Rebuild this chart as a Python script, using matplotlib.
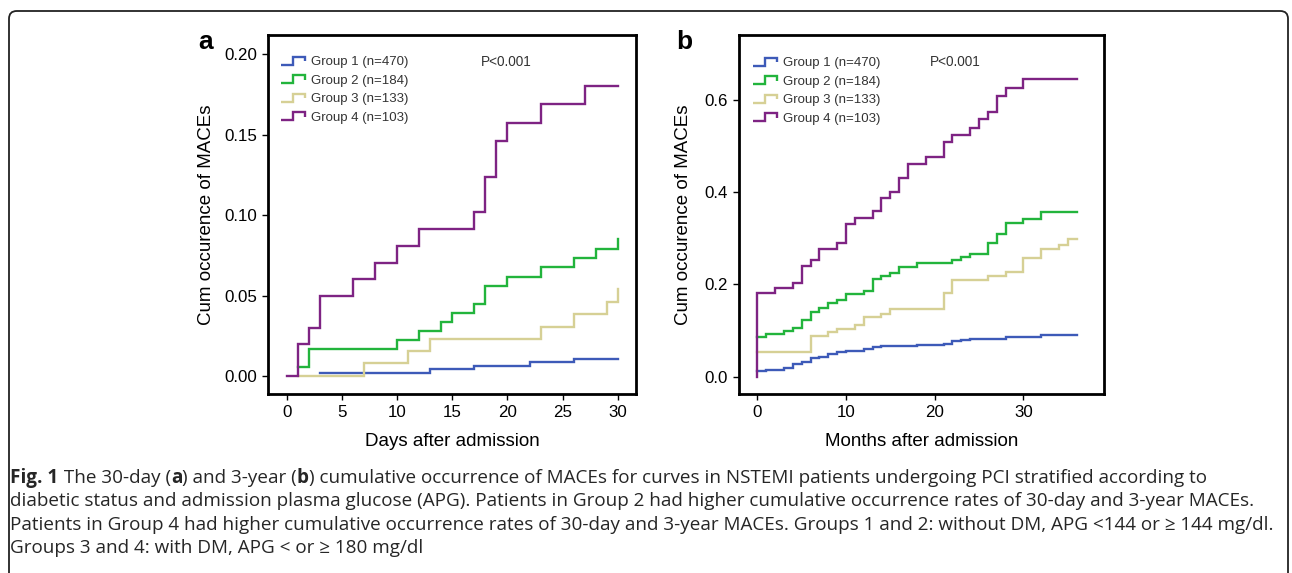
import matplotlib
matplotlib.use("Agg")
import matplotlib.pyplot as plt
from matplotlib.lines import Line2D
from matplotlib.legend_handler import HandlerBase
from matplotlib.patches import FancyBboxPatch
from matplotlib.ticker import FormatStrFormatter

plt.rcParams['font.family'] = ['Liberation Sans', 'DejaVu Sans']

# ---------------- data ----------------
group_labels = ["Group 1 (n=470)", "Group 2 (n=184)", "Group 3 (n=133)", "Group 4 (n=103)"]
group_colors = ["#3D5AB8", "#22B43C", "#D6D095", "#7E2383"]
p_text = "P<0.001"

# Panel a: 30-day (days)
a_g1_t = [3, 13, 17, 22, 26, 30]
a_g1_y = [0.0021, 0.0043, 0.0064, 0.0085, 0.0107, 0.0107]
a_g2_t = [1, 2, 10, 12, 14, 15, 17, 18, 20, 23, 26, 28, 30]
a_g2_y = [0.0058, 0.0168, 0.0222, 0.0280, 0.0334, 0.0390, 0.0448, 0.0560, 0.0618, 0.0676, 0.0734, 0.0790, 0.0850]
a_g3_t = [1, 7, 11, 13, 23, 26, 29, 30]
a_g3_y = [0.0, 0.0079, 0.0155, 0.0228, 0.0307, 0.0383, 0.0462, 0.0539]
a_g4_t = [0, 1, 2, 3, 6, 8, 10, 12, 17, 18, 19, 20, 23, 27, 30]
a_g4_y = [0.0, 0.020, 0.030, 0.050, 0.060, 0.0705, 0.081, 0.0915, 0.102, 0.124, 0.146, 0.157, 0.169, 0.1805, 0.1805]

# Panel b: 3-year (months)
b_g1_t = [0, 1, 2, 3, 4, 5, 6, 7, 8, 9, 10, 12, 13, 14, 18, 21, 22, 23, 24, 28, 30, 32, 36]
b_g1_y = [0.0115, 0.0135, 0.0155, 0.0195, 0.0275, 0.0325, 0.040, 0.0434, 0.049, 0.054, 0.0557,
          0.060, 0.065, 0.067, 0.069, 0.072, 0.0766, 0.0795, 0.0817, 0.0853, 0.0867, 0.0904, 0.0904]
b_g2_t = [0, 1, 3, 4, 5, 6, 7, 8, 9, 10, 12, 13, 14, 15, 16, 18, 22, 23, 24, 26, 27, 28, 30, 32, 36]
b_g2_y = [0.0853, 0.0925, 0.099, 0.105, 0.123, 0.141, 0.148, 0.159, 0.166, 0.179, 0.1865, 0.211,
          0.218, 0.2255, 0.2385, 0.246, 0.253, 0.260, 0.266, 0.289, 0.309, 0.334, 0.341, 0.357, 0.357]
b_g3_t = [0, 6, 8, 9, 11, 12, 14, 15, 21, 22, 26, 28, 30, 32, 34, 35, 36]
b_g3_y = [0.0542, 0.0882, 0.0961, 0.104, 0.112, 0.130, 0.137, 0.146, 0.182, 0.2096, 0.218, 0.226,
          0.2566, 0.276, 0.285, 0.298, 0.298]
b_g4_t = [0, 0, 2, 4, 5, 6, 7, 9, 10, 11, 13, 14, 15, 16, 17, 19, 21, 22, 24, 25, 26, 27, 28, 30, 36]
b_g4_y = [0.0, 0.181, 0.193, 0.204, 0.240, 0.253, 0.278, 0.291, 0.331, 0.345, 0.359, 0.387, 0.401,
          0.430, 0.461, 0.476, 0.509, 0.524, 0.540, 0.559, 0.575, 0.609, 0.627, 0.646, 0.646]

a_xticks = [0, 5, 10, 15, 20, 25, 30]
a_yticks = [0.00, 0.05, 0.10, 0.15, 0.20]
b_xticks = [0, 10, 20, 30]
b_yticks = [0.0, 0.2, 0.4, 0.6]

a_xlabel = "Days after admission"
b_xlabel = "Months after admission"
ylabel_text = "Cum occurence of MACEs"

caption_lines = [
    [("Fig. 1", "bold"), (" The 30-day (", "normal"), ("a", "bold"), (") and 3-year (", "normal"),
     ("b", "bold"), (") cumulative occurrence of MACEs for curves in NSTEMI patients undergoing PCI stratified according to", "normal")],
    [("diabetic status and admission plasma glucose (APG). Patients in Group 2 had higher cumulative occurrence rates of 30-day and 3-year MACEs.", "normal")],
    [("Patients in Group 4 had higher cumulative occurrence rates of 30-day and 3-year MACEs. Groups 1 and 2: without DM, APG <144 or \u2265 144 mg/dl.", "normal")],
    [("Groups 3 and 4: with DM, APG < or \u2265 180 mg/dl", "normal")],
]

# ---------------- figure ----------------
W, H = 1292, 573
fig = plt.figure(figsize=(W / 100, H / 100), dpi=100)
fig.patch.set_facecolor("white")


def fx(px):
    return px / W


def fy(py):
    return 1 - py / H


# outer rounded frame
frame = FancyBboxPatch((fx(9), fy(640)), fx(1288 - 9), (640 - 11) / H,
                       boxstyle="round,pad=0,rounding_size=0.006",
                       transform=fig.transFigure, fill=False, ec="#222222", lw=1.3,
                       mutation_aspect=W / H)
fig.add_artist(frame)


class StepHandler(HandlerBase):
    def create_artists(self, legend, orig_handle, xdescent, ydescent, width, height, fontsize, trans):
        x0, y0 = -xdescent, -ydescent
        xs = [x0, x0 + 0.52 * width, x0 + 0.52 * width, x0 + width, x0 + width]
        ys = [y0 + 0.1 * height, y0 + 0.1 * height, y0 + 0.9 * height, y0 + 0.9 * height, y0 + 0.45 * height]
        ln = Line2D(xs, ys, color=orig_handle.get_color(), lw=orig_handle.get_linewidth(),
                    solid_joinstyle="miter", solid_capstyle="butt")
        ln.set_transform(trans)
        return [ln]


def style_axes(ax, xlim, ylim, xticks, yticks, yfmt):
    ax.set_xlim(*xlim)
    ax.set_ylim(*ylim)
    ax.set_xticks(xticks)
    ax.set_yticks(yticks)
    ax.yaxis.set_major_formatter(FormatStrFormatter(yfmt))
    for s in ax.spines.values():
        s.set_linewidth(2.0)
        s.set_color("black")
    ax.tick_params(axis="both", direction="out", length=4.5, width=1.0, labelsize=12.2,
                   pad=3.5, top=False, right=False, colors="black")


def draw_panel(ax, series, xlabel, xlim, ylim, xticks, yticks, yfmt, ylab_x, leg_anchor, p_xy):
    handles = []
    for (t, y), c in zip(series, group_colors):
        h, = ax.step(t, y, where="post", color=c, lw=1.7, solid_joinstyle="miter")
        handles.append(h)
    style_axes(ax, xlim, ylim, xticks, yticks, yfmt)
    ax.set_xlabel(xlabel, fontsize=13.5)
    ax.xaxis.label.set_va("center")
    ax.xaxis.set_label_coords(0.5, -0.133)
    ax.set_ylabel(ylabel_text, fontsize=13.5)
    ax.yaxis.label.set_va("center")
    ax.yaxis.set_label_coords(ylab_x, 0.5)
    leg = ax.legend(handles, group_labels, handler_map={Line2D: StepHandler()},
                    loc="upper left", bbox_to_anchor=leg_anchor, frameon=False,
                    fontsize=9.5, handlelength=1.85, handleheight=0.8, handletextpad=0.45,
                    labelspacing=0.45, borderpad=0, borderaxespad=0)
    for txt in leg.get_texts():
        txt.set_color("#333333")
    ax.text(p_xy[0], p_xy[1], p_text, transform=ax.transAxes, fontsize=9.8,
            color="#333333", ha="center", va="center")


# Panel a
ax_a = fig.add_axes([fx(268), fy(394), fx(636 - 268), (394 - 35) / H])
draw_panel(ax_a,
           [(a_g1_t, a_g1_y), (a_g2_t, a_g2_y), (a_g3_t, a_g3_y), (a_g4_t, a_g4_y)],
           a_xlabel, (-1.75, 31.67), (-0.0112, 0.212), a_xticks, a_yticks, "%.2f",
           -0.168, (0.034, 1 - 20.5 / 359), ((506 - 268) / 368, 1 - (61.7 - 35) / 359))

# Panel b
ax_b = fig.add_axes([fx(739.3), fy(394), fx(1104 - 739.3), (394 - 35) / H])
draw_panel(ax_b,
           [(b_g1_t, b_g1_y), (b_g2_t, b_g2_y), (b_g3_t, b_g3_y), (b_g4_t, b_g4_y)],
           b_xlabel, (-2.03, 39.1), (-0.0375, 0.741), b_xticks, b_yticks, "%.1f",
           -0.154, (0.037, 1 - 21.5 / 359), ((955 - 739.3) / 364.7, 1 - (62 - 35) / 359))

# panel letters
fig.text(fx(206), fy(41.7), "a", fontsize=19, fontweight="bold", ha="center", va="center")
fig.text(fx(684), fy(41.7), "b", fontsize=19, fontweight="bold", ha="center", va="center")

# caption
cap_family = ["Open Sans", "DejaVu Sans"]
cap_size = 13.55
cap_y = [478, 501.5, 525, 548]
renderer = fig.canvas.get_renderer()
for line, ypx in zip(caption_lines, cap_y):
    xpx = 10.5
    for txt, wt in line:
        t = fig.text(fx(xpx), fy(ypx), txt, fontsize=cap_size, fontweight=wt,
                     family=cap_family, color="#262626", ha="left", va="center")
        bb = t.get_window_extent(renderer=renderer)
        xpx += bb.width

fig.savefig("out.png", dpi=100, facecolor="white")
